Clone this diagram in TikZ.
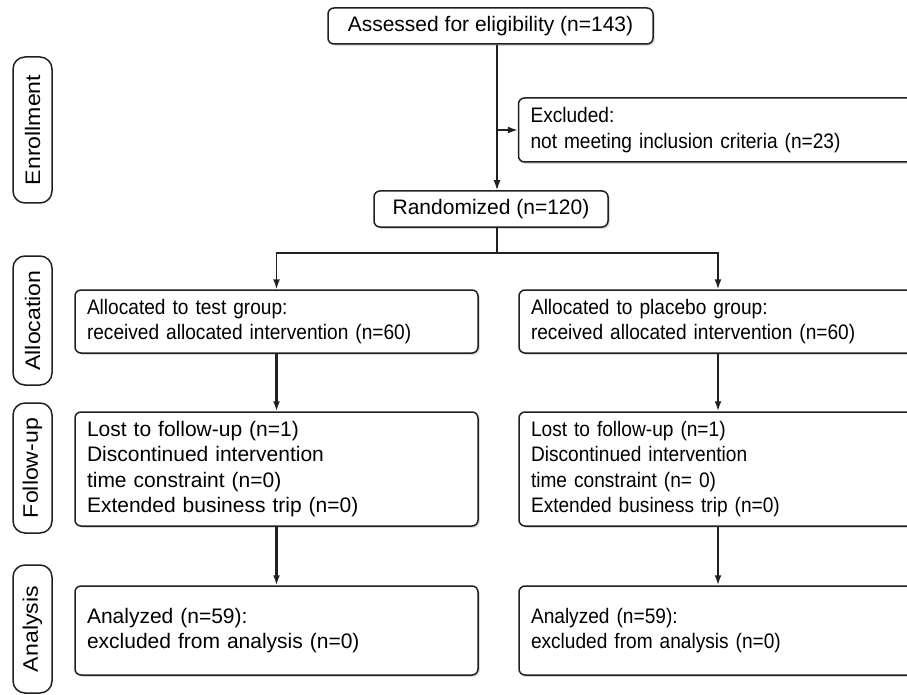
\documentclass[tikz,border=0pt]{standalone}
\usepackage{fontspec}
\setmainfont{Liberation Sans}
\newfontfamily\narrowfamily[FakeStretch=0.91]{Liberation Sans}
\newfontfamily\widefamily[FakeStretch=1.1]{Liberation Sans}
\usepackage{xcolor}
\definecolor{ink}       {HTML}{231F20}
\definecolor{shade}     {HTML}{9A9A9A}
\usetikzlibrary{arrows.meta, positioning, calc, shadows}
\newcommand{\flowfont}{\fontsize{21}{25.5}\selectfont}
\tikzset{
    box/.style={draw=ink, line width=1.5pt, rounded corners=6pt, fill=white,
                drop shadow={shadow xshift=1.8pt, shadow yshift=-1.8pt,
                             fill=shade, opacity=0.35},
                inner xsep=12pt, inner ysep=0pt, font=\flowfont},
    titlebox/.style={box, align=center, minimum height=36pt},
    leftbox/.style={box, align=left, text width=379pt},
    rightbox/.style={box, align=left, text width=374pt,
                     font=\flowfont\narrowfamily},
    narrowbox/.style={leftbox, font=\flowfont\narrowfamily},
    stage/.style={draw=ink, line width=1.5pt, rounded corners=12pt, fill=white,
                  rotate=90, minimum height=39pt, inner sep=0pt,
                  font=\flowfont\widefamily},
    arr/.style={-{Latex[length=10pt, width=7pt]}, line width=1.5pt, draw=ink},
    arrthick/.style={arr, line width=2.2pt},
    line/.style={-, line width=1.5pt, draw=ink},
}

\begin{document}
\begin{tikzpicture}[x=1pt, y=-1pt]
    \useasboundingbox (0,0) rectangle (907,695);
    \clip (0,0) rectangle (907,695);
    % stages
    \node[stage, minimum width=146pt] (enroll) at (32.5,130) {Enrollment};
    \node[stage, minimum width=129pt] (alloc) at (32.5,320.5) {Allocation};
    \node[stage, minimum width=130pt] (follow) at (32.5,468) {Follow-up};
    \node[stage, minimum width=128pt] (analysis) at (32.5,629) {Analysis};
    % enrollment
    \node[titlebox, minimum width=325pt] (assess) at (490.5,26) {Assessed for eligibility (n=143)};
    \node[rightbox, minimum height=64pt] (excl) at (717.5,130)
        {Excluded:\\not meeting inclusion criteria (n=23)};
    \node[titlebox, minimum width=234pt] (rand) at (491,209) {Randomized (n=120)};
    \coordinate (trunk) at (497,0);
    \coordinate (split) at (497,253);
    % groups
    \node[narrowbox, minimum height=63pt] (allocL) at (276.5,321.5)
        {Allocated to test group:\\received allocated intervention (n=60)};
    \node[rightbox, minimum height=63pt] (allocR) at (718,321.5)
        {Allocated to placebo group:\\received allocated intervention (n=60)};
    \node[leftbox, minimum height=114pt] (followL) at (276.5,469)
        {Lost to follow-up (n=1)\\Discontinued intervention\\time constraint (n=0)\\Extended business trip (n=0)};
    \node[rightbox, minimum height=114pt] (followR) at (718,469)
        {Lost to follow-up (n=1)\\Discontinued intervention\\time constraint (n= 0)\\Extended business trip (n=0)};
    \node[leftbox, minimum height=89pt] (analysisL) at (276.5,630.5)
        {Analyzed (n=59):\\excluded from analysis (n=0)};
    \node[rightbox, minimum height=89pt] (analysisR) at (718,630.5)
        {Analyzed (n=59):\\excluded from analysis (n=0)};
    % connectors
    \draw[arr] (assess.south -| trunk) -- (rand.north -| trunk);
    \draw[arr] (trunk |- excl.west) -- (excl.west);
    \draw[line] (rand.south -| trunk) -- (split);
    \draw[arr] (split) -| (allocL.north);
    \draw[arr] (split) -| (allocR.north);
    \draw[arrthick] (allocL) -- (followL);
    \draw[arrthick] (allocR) -- (followR);
    \draw[arrthick] (followL) -- (analysisL);
    \draw[arrthick] (followR) -- (analysisR);
\end{tikzpicture}
\end{document}
